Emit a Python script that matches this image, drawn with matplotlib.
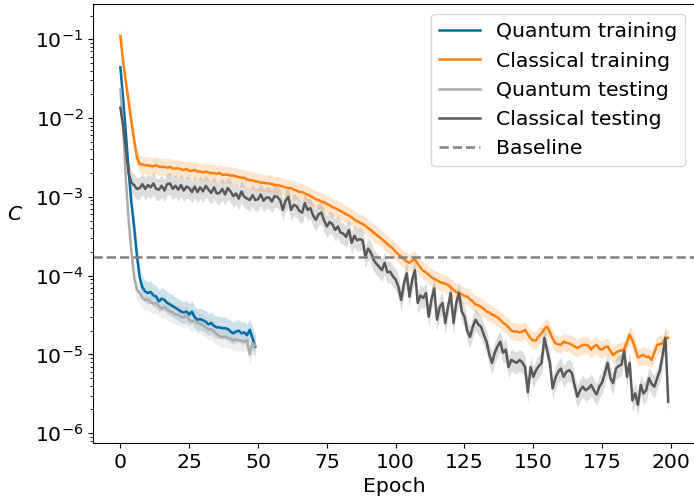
import numpy as np
import matplotlib
matplotlib.use('Agg')
import matplotlib.pyplot as plt

# wartosci (C na epoke)
q_train = [4.4e-2, 1.7e-2, 6.3e-3, 2.1e-3, 8.3e-4, 4.1e-4, 1.8e-4, 9.5e-5, 7.1e-5, 6.3e-5,
           6.0e-5, 6.2e-5, 5.6e-5, 5.4e-5, 4.7e-5, 5.1e-5, 4.9e-5, 4.5e-5, 4.3e-5, 4.1e-5,
           3.9e-5, 3.7e-5, 3.5e-5, 3.4e-5, 3.5e-5, 3.2e-5, 3.5e-5, 2.95e-5, 2.75e-5, 2.8e-5,
           2.7e-5, 2.6e-5, 2.4e-5, 2.5e-5, 2.3e-5, 2.2e-5, 2.2e-5, 2.15e-5, 2.15e-5, 2.1e-5,
           1.95e-5, 1.85e-5, 1.95e-5, 2.0e-5, 1.85e-5, 1.9e-5, 1.75e-5, 2.05e-5, 1.6e-5, 1.25e-5]

q_test = [2.3e-2, 7.9e-3, 1.6e-3, 5.0e-4, 2.0e-4, 9.5e-5, 6.6e-5, 6.0e-5, 5.2e-5, 4.9e-5,
          5.0e-5, 4.6e-5, 4.4e-5, 4.5e-5, 4.1e-5, 3.8e-5, 4.0e-5, 3.7e-5, 3.5e-5, 3.4e-5,
          3.2e-5, 3.2e-5, 3.0e-5, 2.95e-5, 3.1e-5, 2.75e-5, 2.6e-5, 2.7e-5, 2.5e-5, 2.45e-5,
          2.35e-5, 2.2e-5, 2.05e-5, 2.1e-5, 1.95e-5, 1.8e-5, 1.7e-5, 1.65e-5, 1.7e-5, 1.6e-5,
          1.6e-5, 1.5e-5, 1.55e-5, 1.5e-5, 1.5e-5, 1.45e-5, 1.5e-5, 1.0e-5, 1.4e-5, 1.3e-5]

c_train = [1.1e-1, 5.2e-2, 2.8e-2, 1.6e-2, 8.9e-3, 5.2e-3, 3.2e-3, 2.6e-3, 2.57e-3, 2.51e-3,
           2.51e-3, 2.45e-3, 2.45e-3, 2.51e-3, 2.4e-3, 2.4e-3, 2.4e-3, 2.34e-3, 2.4e-3, 2.29e-3,
           2.29e-3, 2.29e-3, 2.24e-3, 2.19e-3, 2.24e-3, 2.14e-3, 2.14e-3, 2.19e-3, 2.09e-3, 2.09e-3,
           2.04e-3, 2.09e-3, 2.04e-3, 2.0e-3, 2.0e-3, 1.95e-3, 2.0e-3, 1.91e-3, 1.91e-3, 1.91e-3,
           1.86e-3, 1.86e-3, 1.82e-3, 1.78e-3, 1.74e-3, 1.74e-3, 1.66e-3, 1.62e-3, 1.62e-3, 1.58e-3,
           1.55e-3, 1.51e-3, 1.51e-3, 1.48e-3, 1.48e-3, 1.45e-3, 1.41e-3, 1.41e-3, 1.38e-3, 1.35e-3,
           1.32e-3, 1.29e-3, 1.29e-3, 1.23e-3, 1.2e-3, 1.15e-3, 1.15e-3, 1.1e-3, 1.07e-3, 1.02e-3,
           9.8e-4, 9.3e-4, 9.1e-4, 8.7e-4, 8.5e-4, 8.1e-4, 7.8e-4, 7.4e-4, 7.2e-4, 6.9e-4,
           6.6e-4, 6.3e-4, 6.0e-4, 5.8e-4, 5.5e-4, 5.1e-4, 4.9e-4, 4.7e-4, 4.5e-4, 4.3e-4,
           4.0e-4, 3.8e-4, 3.5e-4, 3.3e-4, 3.1e-4, 2.9e-4, 2.7e-4, 2.5e-4, 2.35e-4, 2.2e-4,
           2.0e-4, 1.86e-4, 1.74e-4, 1.62e-4, 1.51e-4, 1.45e-4, 1.55e-4, 1.62e-4, 1.41e-4, 1.26e-4,
           1.15e-4, 1.1e-4, 1.02e-4, 9.5e-5, 9.1e-5, 8.7e-5, 8.3e-5, 8.1e-5, 7.9e-5, 7.6e-5,
           7.1e-5, 6.6e-5, 6.2e-5, 6.0e-5, 5.8e-5, 5.5e-5, 5.4e-5, 5.0e-5, 4.7e-5, 4.3e-5,
           4.2e-5, 4.0e-5, 3.8e-5, 3.5e-5, 3.4e-5, 3.2e-5, 3.1e-5, 2.95e-5, 2.75e-5, 2.5e-5,
           2.4e-5, 2.2e-5, 2.0e-5, 1.95e-5, 1.95e-5, 1.9e-5, 1.95e-5, 2.05e-5, 1.8e-5, 1.6e-5,
           1.5e-5, 1.5e-5, 1.7e-5, 1.86e-5, 2.1e-5, 2.25e-5, 1.9e-5, 1.6e-5, 1.38e-5, 1.35e-5,
           1.32e-5, 1.45e-5, 1.41e-5, 1.38e-5, 1.32e-5, 1.26e-5, 1.2e-5, 1.26e-5, 1.32e-5, 1.32e-5,
           1.29e-5, 1.15e-5, 1.26e-5, 1.32e-5, 1.17e-5, 1.15e-5, 1.23e-5, 1.26e-5, 1.1e-5, 9.8e-6,
           1.05e-5, 1.1e-5, 1.12e-5, 1.15e-5, 1.41e-5, 1.78e-5, 1.51e-5, 1.2e-5, 9.1e-6, 9.5e-6,
           9.8e-6, 9.3e-6, 9.3e-6, 8.5e-6, 1.07e-5, 1.32e-5, 1.35e-5, 1.38e-5, 1.62e-5, 1.62e-5]

c_test = [1.35e-2, 7.9e-3, 4.0e-3, 2.0e-3, 1.51e-3, 1.41e-3, 1.26e-3, 1.29e-3, 1.45e-3, 1.26e-3,
          1.41e-3, 1.32e-3, 1.48e-3, 1.26e-3, 1.23e-3, 1.38e-3, 1.2e-3, 1.45e-3, 1.48e-3, 1.26e-3,
          1.38e-3, 1.23e-3, 1.41e-3, 1.2e-3, 1.35e-3, 1.29e-3, 1.15e-3, 1.35e-3, 1.15e-3, 1.32e-3,
          1.17e-3, 1.38e-3, 1.23e-3, 1.12e-3, 1.32e-3, 1.1e-3, 1.12e-3, 1.26e-3, 1.07e-3, 1.29e-3,
          1.17e-3, 1.02e-3, 1.1e-3, 9.5e-4, 1.17e-3, 1.0e-3, 9.5e-4, 9.1e-4, 1.05e-3, 9.1e-4,
          9.3e-4, 1.07e-3, 8.9e-4, 9.8e-4, 9.8e-4, 8.7e-4, 1.02e-3, 1.0e-3, 9.1e-4, 6.8e-4,
          8.9e-4, 1.0e-3, 6.8e-4, 7.9e-4, 7.6e-4, 6.6e-4, 6.3e-4, 8.3e-4, 6.8e-4, 7.2e-4,
          5.8e-4, 5.1e-4, 6.0e-4, 6.3e-4, 5.0e-4, 4.2e-4, 4.8e-4, 4.5e-4, 3.8e-4, 4.2e-4,
          3.5e-4, 3.4e-4, 3.1e-4, 3.8e-4, 2.6e-4, 3.2e-4, 2.8e-4, 2.9e-4, 2.8e-4, 1.74e-4,
          2.2e-4, 1.95e-4, 1.58e-4, 1.41e-4, 1.29e-4, 1.17e-4, 1.45e-4, 1.1e-4, 1.12e-4, 9.8e-5,
          8.9e-5, 7.2e-5, 4.9e-5, 7.9e-5, 1.07e-4, 5.4e-5, 8.9e-5, 1.17e-4, 4.5e-5, 5.6e-5,
          5.2e-5, 6.0e-5, 3.0e-5, 5.0e-5, 6.9e-5, 2.75e-5, 4.0e-5, 4.5e-5, 2.5e-5, 4.0e-5,
          6.0e-5, 2.5e-5, 4.5e-5, 6.0e-5, 3.5e-5, 3.0e-5, 2.0e-5, 1.66e-5, 2.24e-5, 2.75e-5,
          2.4e-5, 2.24e-5, 1.78e-5, 1.45e-5, 1.0e-5, 7.8e-6, 1.05e-5, 1.26e-5, 1.45e-5, 1.05e-5,
          1.15e-5, 6.9e-6, 8.5e-6, 8.1e-6, 7.8e-6, 8.5e-6, 7.9e-6, 6.9e-6, 3.3e-6, 6.9e-6,
          5.2e-6, 6.3e-6, 7.1e-6, 7.8e-6, 1.62e-5, 1.12e-5, 7.9e-6, 3.7e-6, 5.0e-6, 6.0e-6,
          6.6e-6, 5.2e-6, 6.0e-6, 6.3e-6, 5.8e-6, 4.0e-6, 2.9e-6, 3.5e-6, 3.9e-6, 3.5e-6,
          3.7e-6, 4.1e-6, 3.5e-6, 3.1e-6, 3.9e-6, 4.4e-6, 5.8e-6, 7.8e-6, 5.0e-6, 4.3e-6,
          6.6e-6, 7.1e-6, 7.4e-6, 1.1e-5, 5.2e-6, 7.8e-6, 2.6e-6, 3.2e-6, 2.3e-6, 4.1e-6,
          3.2e-6, 3.5e-6, 5.0e-6, 4.2e-6, 3.9e-6, 5.0e-6, 6.3e-6, 1.0e-5, 1.62e-5, 2.5e-6]

baseline = 1.73e-4

# szerokosc pasma niepewnosci (w dekadach)
band_q_train = 0.14
band_q_test = 0.13
band_c_train = 0.11
band_c_test = 0.14

ep_q = np.arange(len(q_train))
ep_c = np.arange(len(c_train))

plt.rcParams['font.size'] = 14.7
fig = plt.figure(figsize=(6.94, 5.01), dpi=100)
ax = fig.add_axes([93/694, 58/501, 602.6/694, 439/501])

series = [(ep_q, q_train, band_q_train, '#006BA4', 'Quantum training'),
          (ep_c, c_train, band_c_train, '#FF800E', 'Classical training'),
          (ep_q, q_test, band_q_test, '#ABABAB', 'Quantum testing'),
          (ep_c, c_test, band_c_test, '#595959', 'Classical testing')]

for ep, vals, band, col, lab in series:
    v = np.array(vals)
    f = 10 ** band
    ax.fill_between(ep, v / f, v * f, color=col, alpha=0.2, lw=0)
    ax.plot(ep, v, color=col, lw=1.8, label=lab)

ax.axhline(baseline, color='gray', ls='--', lw=1.8, label='Baseline')

ax.set_yscale('log')
ax.set_xlim(-9.95, 208.95)
ax.set_ylim(7.5e-7, 0.28)
ax.set_xticks([0, 25, 50, 75, 100, 125, 150, 175, 200])
ax.set_xlabel('Epoch')
ax.set_ylabel('$C$', rotation=0)
ax.yaxis.set_label_coords(-0.13, 0.5)
ax.legend(loc='upper right')

plt.savefig('out.png', dpi=100)
